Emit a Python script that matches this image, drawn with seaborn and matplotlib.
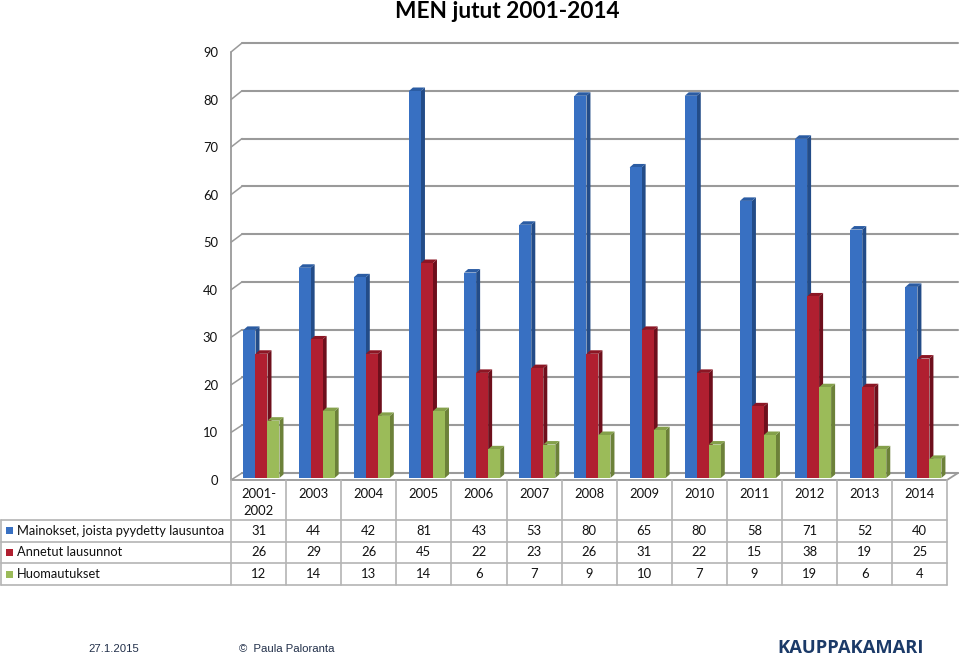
import pandas as pd
import matplotlib
matplotlib.use('Agg')
import matplotlib.pyplot as plt
from matplotlib.patches import Polygon, Rectangle
import seaborn as sns

years = ['2001-\n2002', '2003', '2004', '2005', '2006', '2007', '2008',
         '2009', '2010', '2011', '2012', '2013', '2014']
series_names = ['Mainokset, joista pyydetty lausuntoa', 'Annetut lausunnot', 'Huomautukset']
mainokset = [31, 44, 42, 81, 43, 53, 80, 65, 80, 58, 71, 52, 40]
lausunnot = [26, 29, 26, 45, 22, 23, 26, 31, 22, 15, 38, 19, 25]
huomautukset = [12, 14, 13, 14, 6, 7, 9, 10, 7, 9, 19, 6, 4]
y_ticks = [0, 10, 20, 30, 40, 50, 60, 70, 80, 90]

front_colors = ['#3870C2', '#B01F30', '#9BBB59']
side_colors = ['#234C88', '#6E0F1C', '#6C8139']
top_colors = ['#2B5CA3', '#8C1624', '#84A04A']
grid_color = '#9A9A9A'
table_color = '#B4B4B4'
text_color = '#111111'
navy = '#1B3A68'

W, H = 960, 656

sns.set_theme(style='white')
plt.rcParams['font.family'] = ['Lato', 'DejaVu Sans']

df = pd.DataFrame({'vuosi': years * 3,
                   'sarja': [s for s in series_names for _ in years],
                   'arvo': mainokset + lausunnot + huomautukset})

fig = plt.figure(figsize=(W / 100, H / 100), dpi=100)

# pixel layer for the walls, the table and the footer
px = fig.add_axes([0, 0, 1, 1])
px.set_xlim(0, W)
px.set_ylim(H, 0)
px.axis('off')

# bars: 0 sits on y=478, 90 on y=48
left, right, bottom, top = 233.9, 951.0, 478.0, 48.0
ax = fig.add_axes([left / W, 1 - bottom / H, (right - left) / W, (bottom - top) / H])
ax.patch.set_alpha(0)
sns.barplot(data=df, x='vuosi', y='arvo', hue='sarja', hue_order=series_names,
            palette=front_colors, saturation=1, width=0.653, gap=0, legend=False,
            linewidth=0, ax=ax)
ax.set_xlim(-0.5, 12.5)
ax.set_ylim(0, 90)
ax.axis('off')

# walls
wall_x0, wall_x1 = 231, 242
wall_right = 958
wall_base_front, wall_base_back = 480, 473
unit_front = (480 - 52) / 90
unit_back = (473 - 43) / 90
for v in y_ticks:
    yf = wall_base_front - v * unit_front
    yb = wall_base_back - v * unit_back
    px.plot([wall_x0, wall_x1], [yf, yb], color=grid_color, lw=1.1, solid_capstyle='round')
    px.plot([wall_x1, wall_right], [yb, yb], color=grid_color, lw=1.5)
    px.text(218, yf + 1, str(v), ha='right', va='center', fontsize=9.4, color=text_color)
px.plot([wall_x0, wall_x0], [480, 52], color=grid_color, lw=1.3)
px.plot([wall_x0, 947, wall_right], [480, 480, 473], color=grid_color, lw=1.3)

# depth of the bars, taken from the bar rectangles seaborn drew
dx, dy = 4, 3.5
n = len(years)
for i, bar in enumerate(ax.patches[:3 * n]):
    s = i // n
    (x0, y0), (x1, y1) = ax.transData.transform(bar.get_corners()[[0, 2]])
    (x0, y0), (x1, y1) = px.transData.inverted().transform([(x0, y0), (x1, y1)])
    side = Polygon([(x1, y0), (x1 + dx, y0 - dy), (x1 + dx, y1 - dy), (x1, y1)],
                   closed=True, fc=side_colors[s], ec='none', transform=px.transData,
                   clip_on=False, zorder=bar.get_zorder() - 0.1 + s * 0.5)
    roof = Polygon([(x0, y1), (x0 + dx, y1 - dy), (x1 + dx, y1 - dy), (x1, y1)],
                   closed=True, fc=top_colors[s], ec='none', transform=px.transData,
                   clip_on=False, zorder=bar.get_zorder() - 0.1 + s * 0.5)
    ax.add_patch(side)
    ax.add_patch(roof)
    bar.set_zorder(bar.get_zorder() + s * 0.5)

# table
col_x = [231 + 55.1 * k for k in range(n + 1)]
row_y = [520, 541.7, 563, 585]
for y in row_y:
    px.plot([1, col_x[-1]], [y, y], color=table_color, lw=1.2)
px.plot([1, 1], [row_y[0], row_y[-1]], color=table_color, lw=1.2)
for x in col_x:
    px.plot([x, x], [480, row_y[-1]], color=table_color, lw=1.2)

rows = [mainokset, lausunnot, huomautukset]
for k, year in enumerate(years):
    cx = (col_x[k] + col_x[k + 1]) / 2
    # the first label wraps, one text per line keeps the line distance of the original
    for j, part in enumerate(year.split('\n')):
        px.text(cx, 494 + 17 * j, part, ha='center', va='center', fontsize=9.4, color=text_color)
    for r, values in enumerate(rows):
        px.text(cx, (row_y[r] + row_y[r + 1]) / 2, str(values[k]), ha='center', va='center',
                fontsize=9.4, color=text_color)

for r, name in enumerate(series_names):
    cy = (row_y[r] + row_y[r + 1]) / 2
    px.add_patch(Rectangle((6, cy - 3.5), 7, 7, fc=front_colors[r], ec='none'))
    px.text(17, cy, name, ha='left', va='center', fontsize=9.3, color=text_color)

# title and footer
px.text(507, 11.5, 'MEN jutut 2001-2014', ha='center', va='center', fontsize=16.3,
        fontweight='bold', color='black')
px.text(88, 649.5, '27.1.2015', ha='left', va='center', fontsize=8.2, color='#22304A',
        family=['Liberation Sans', 'DejaVu Sans'])
px.text(239, 649.5, '©  Paula Paloranta', ha='left', va='center', fontsize=8.2, color='#22304A',
        family=['Liberation Sans', 'DejaVu Sans'])
px.text(777, 648, 'KAUPPAKAMARI', ha='left', va='center', fontsize=13.2, fontweight='bold',
        color=navy, family=['Open Sans', 'DejaVu Sans'])

fig.savefig('out.png', dpi=100)
